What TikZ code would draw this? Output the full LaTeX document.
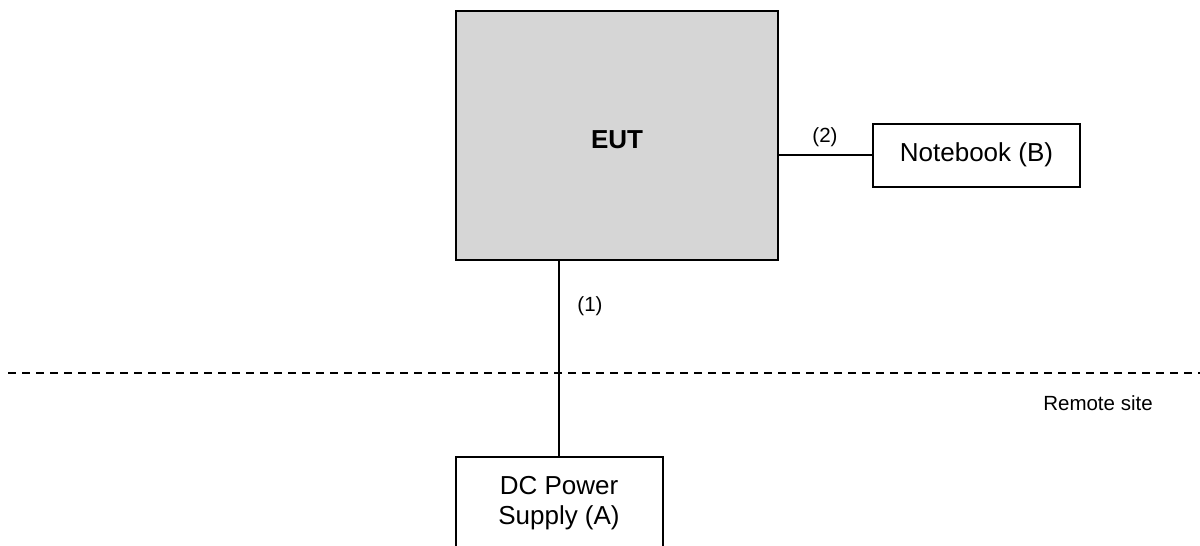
\documentclass[tikz,border=0pt]{standalone}
\usepackage{fontspec}
\setmainfont{Liberation Sans}
\begin{document}
\begin{tikzpicture}[x=1pt,y=-1pt,
  box/.style={draw=black,line width=2pt,inner sep=0pt},
  big/.style={font=\fontsize{26}{30}\selectfont},
  small/.style={font=\fontsize{20.5}{24}\selectfont},
  wire/.style={line width=2pt}]
\useasboundingbox (0,0) rectangle (1200,546);
\node[box,fill=black!16,minimum width=322pt,minimum height=249pt] (eut) at (617,135) {};
\node[big,font=\fontsize{26}{30}\selectfont\bfseries] (eutt) at (617,140) {EUT};
\node[box,minimum width=207pt,minimum height=63pt,big] (nb) at (976.5,155) {Notebook (B)};
\node[box,minimum width=207pt,minimum height=110pt] (dc) at (559,512) {};
\node[big,align=center] (dct) at (559,503) {DC Power\\Supply (A)};
\draw[wire] (eut.east |- nb.west) -- (nb.west);
\draw[wire] (eut.south -| dc.north) -- (dc.north);
\node[small] (l2) at (825,137) {(2)};
\node[small] (l1) at (590,306) {(1)};
\node[small] (rs) at (1098,403) {Remote site};
\coordinate (dl) at (8,373);
\coordinate (dr) at (1200,373);
\draw[wire,dash pattern=on 8pt off 6pt] (dl) -- (dr);
\end{tikzpicture}
\end{document}
